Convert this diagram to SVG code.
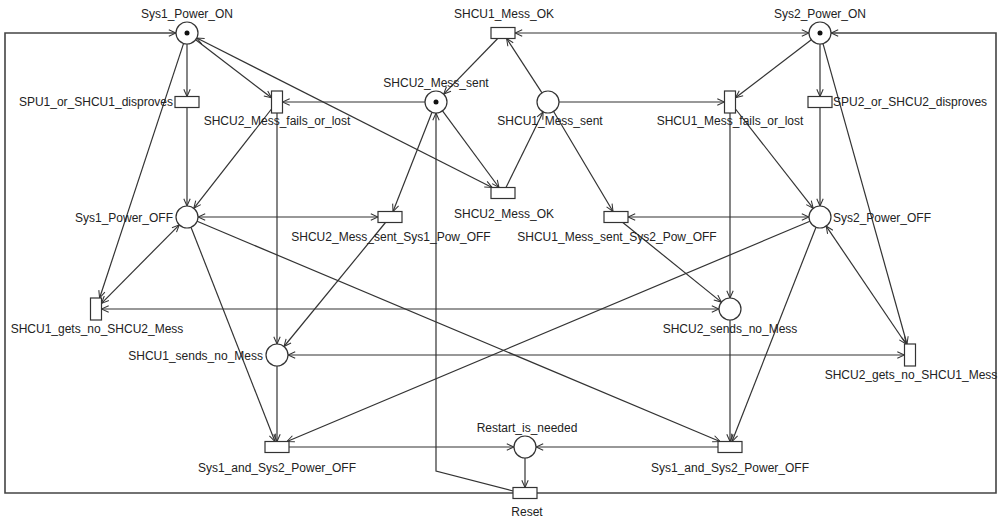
<svg xmlns="http://www.w3.org/2000/svg" width="1001" height="518" viewBox="0 0 1001 518">
<defs>
<marker id="arr" viewBox="0 0 10 10" refX="10" refY="5" markerWidth="8" markerHeight="8" markerUnits="userSpaceOnUse" orient="auto-start-reverse">
<path d="M1,1 L10,5 L1,9" fill="none" stroke="#333" stroke-width="1.3"/>
</marker>
</defs>
<style>
.a{fill:none;stroke:#333;stroke-width:1.2;marker-end:url(#arr)}
.b{fill:none;stroke:#333;stroke-width:1.2;marker-start:url(#arr);marker-end:url(#arr)}
.f{fill:none;stroke:#444;stroke-width:1.6;marker-end:url(#arr)}
.p{fill:#fff;stroke:#333;stroke-width:1.2}
.t{fill:#fff;stroke:#333;stroke-width:1.2}
.k{fill:#111}
text{font-family:"Liberation Sans",Arial,sans-serif;font-size:12px;fill:#222}
.m{text-anchor:middle}
.e{text-anchor:end}
</style>
<rect width="1001" height="518" fill="#fff"/>
<g id="connectors">
<polyline class="f" points="513,493 5,493 5,33 176,33"/>
<polyline class="f" points="537,493 996,493 996,33 831,33"/>
<line class="a" x1="187" y1="44" x2="187" y2="96.5"/>
<line class="a" x1="195.7" y1="39.7" x2="271.5" y2="97.8"/>
<line class="a" x1="183.6" y1="43.4" x2="99.6" y2="298"/>
<line class="b" x1="196.8" y1="38" x2="492.1" y2="187.5"/>
<line class="a" x1="187" y1="107.5" x2="187" y2="206"/>
<line class="a" x1="271.5" y1="109" x2="193.8" y2="208.3"/>
<line class="a" x1="277" y1="113" x2="277" y2="344"/>
<line class="a" x1="425" y1="102" x2="282.5" y2="102"/>
<line class="a" x1="442.5" y1="110.9" x2="499" y2="187.5"/>
<line class="a" x1="432" y1="112.2" x2="393" y2="211.5"/>
<line class="a" x1="497.7" y1="38.5" x2="443.7" y2="94.1"/>
<line class="a" x1="542" y1="92.8" x2="506.6" y2="38.5"/>
<polyline class="a" points="513,491 436,471 436,113"/>
<line class="a" x1="506" y1="187.5" x2="543.1" y2="111.9"/>
<line class="a" x1="559" y1="102" x2="724.5" y2="102"/>
<line class="a" x1="553.6" y1="111.5" x2="613" y2="211.5"/>
<line class="b" x1="809" y1="33" x2="515" y2="33"/>
<line class="a" x1="811.3" y1="39.7" x2="735.5" y2="97.7"/>
<line class="a" x1="820" y1="44" x2="820" y2="96.5"/>
<line class="a" x1="823" y1="43.6" x2="907" y2="344"/>
<line class="b" x1="826.2" y1="226.1" x2="906" y2="344"/>
<line class="a" x1="820" y1="107.5" x2="820" y2="206"/>
<line class="a" x1="735.5" y1="109" x2="813.2" y2="208.3"/>
<line class="a" x1="730" y1="113" x2="730" y2="298"/>
<line class="b" x1="809" y1="217" x2="628" y2="217"/>
<line class="b" x1="198" y1="217" x2="378" y2="217"/>
<line class="a" x1="622.8" y1="222.5" x2="721.4" y2="302.1"/>
<line class="a" x1="385.5" y1="222.5" x2="284" y2="346.5"/>
<line class="b" x1="179.3" y1="224.8" x2="101.5" y2="303.4"/>
<line class="b" x1="719" y1="309" x2="101.5" y2="309"/>
<line class="b" x1="288" y1="355" x2="904.5" y2="355"/>
<line class="a" x1="191" y1="227.2" x2="275" y2="441.5"/>
<line class="a" x1="197.1" y1="221.3" x2="720" y2="441.5"/>
<line class="a" x1="809.9" y1="221.3" x2="287" y2="441.5"/>
<line class="a" x1="816" y1="227.2" x2="732" y2="441.5"/>
<line class="a" x1="277" y1="366" x2="277" y2="441.5"/>
<line class="a" x1="730" y1="320" x2="730" y2="441.5"/>
<line class="a" x1="289" y1="447" x2="514" y2="447"/>
<line class="a" x1="718" y1="447" x2="536" y2="447"/>
<line class="a" x1="525" y1="458" x2="525" y2="487.5"/>
</g>
<g id="Sys1_Power_ON"><circle class="p" cx="187" cy="33" r="11"/><circle class="k" cx="187" cy="33" r="2.5"/><text class="m" x="187" y="18">Sys1_Power_ON</text></g>
<g id="Sys2_Power_ON"><circle class="p" cx="820" cy="33" r="11"/><circle class="k" cx="820" cy="33" r="2.5"/><text class="m" x="820" y="18">Sys2_Power_ON</text></g>
<g id="SHCU2_Mess_sent"><circle class="p" cx="436" cy="102" r="11"/><circle class="k" cx="436" cy="102" r="2.5"/><text class="m" x="436" y="87">SHCU2_Mess_sent</text></g>
<g id="SHCU1_Mess_sent"><circle class="p" cx="548" cy="102" r="11"/><text class="m" x="550" y="125">SHCU1_Mess_sent</text></g>
<g id="Sys1_Power_OFF"><circle class="p" cx="187" cy="217" r="11"/><text class="e" x="173" y="222">Sys1_Power_OFF</text></g>
<g id="Sys2_Power_OFF"><circle class="p" cx="820" cy="217" r="11"/><text x="833" y="222">Sys2_Power_OFF</text></g>
<g id="SHCU2_sends_no_Mess"><circle class="p" cx="730" cy="309" r="11"/><text class="m" x="730" y="333">SHCU2_sends_no_Mess</text></g>
<g id="SHCU1_sends_no_Mess"><circle class="p" cx="277" cy="355" r="11"/><text class="e" x="263" y="360">SHCU1_sends_no_Mess</text></g>
<g id="Restart_is_needed"><circle class="p" cx="525" cy="447" r="11"/><text class="m" x="527" y="432">Restart_is_needed</text></g>
<g id="SPU1_or_SHCU1_disproves"><rect class="t" x="175" y="96.5" width="24" height="11"/><text class="e" x="173" y="106">SPU1_or_SHCU1_disproves</text></g>
<g id="SHCU2_Mess_fails_or_lost"><rect class="t" x="271.5" y="91" width="11" height="22"/><text class="m" x="277" y="125">SHCU2_Mess_fails_or_lost</text></g>
<g id="SHCU1_Mess_OK"><rect class="t" x="491" y="27.5" width="24" height="11"/><text class="m" x="504" y="18">SHCU1_Mess_OK</text></g>
<g id="SHCU1_Mess_fails_or_lost"><rect class="t" x="724.5" y="91" width="11" height="22"/><text class="m" x="730" y="125">SHCU1_Mess_fails_or_lost</text></g>
<g id="SPU2_or_SHCU2_disproves"><rect class="t" x="808" y="96.5" width="24" height="11"/><text x="833" y="106">SPU2_or_SHCU2_disproves</text></g>
<g id="SHCU2_Mess_OK"><rect class="t" x="491" y="187.5" width="24" height="11"/><text class="m" x="504" y="218">SHCU2_Mess_OK</text></g>
<g id="SHCU2_Mess_sent_Sys1_Pow_OFF"><rect class="t" x="378" y="211.5" width="24" height="11"/><text class="m" x="391" y="241">SHCU2_Mess_sent_Sys1_Pow_OFF</text></g>
<g id="SHCU1_Mess_sent_Sys2_Pow_OFF"><rect class="t" x="604" y="211.5" width="24" height="11"/><text class="m" x="617" y="241">SHCU1_Mess_sent_Sys2_Pow_OFF</text></g>
<g id="SHCU1_gets_no_SHCU2_Mess"><rect class="t" x="90.5" y="298" width="11" height="22"/><text class="m" x="97" y="333">SHCU1_gets_no_SHCU2_Mess</text></g>
<g id="SHCU2_gets_no_SHCU1_Mess"><rect class="t" x="904.5" y="344" width="11" height="22"/><text class="m" x="911" y="379">SHCU2_gets_no_SHCU1_Mess</text></g>
<g id="Sys1_and_Sys2_Power_OFF_1"><rect class="t" x="265" y="441.5" width="24" height="11"/><text class="m" x="277" y="472">Sys1_and_Sys2_Power_OFF</text></g>
<g id="Sys1_and_Sys2_Power_OFF_2"><rect class="t" x="718" y="441.5" width="24" height="11"/><text class="m" x="730" y="472">Sys1_and_Sys2_Power_OFF</text></g>
<g id="Reset"><rect class="t" x="513" y="487.5" width="24" height="11"/><text class="m" x="527" y="516">Reset</text></g>
</svg>
